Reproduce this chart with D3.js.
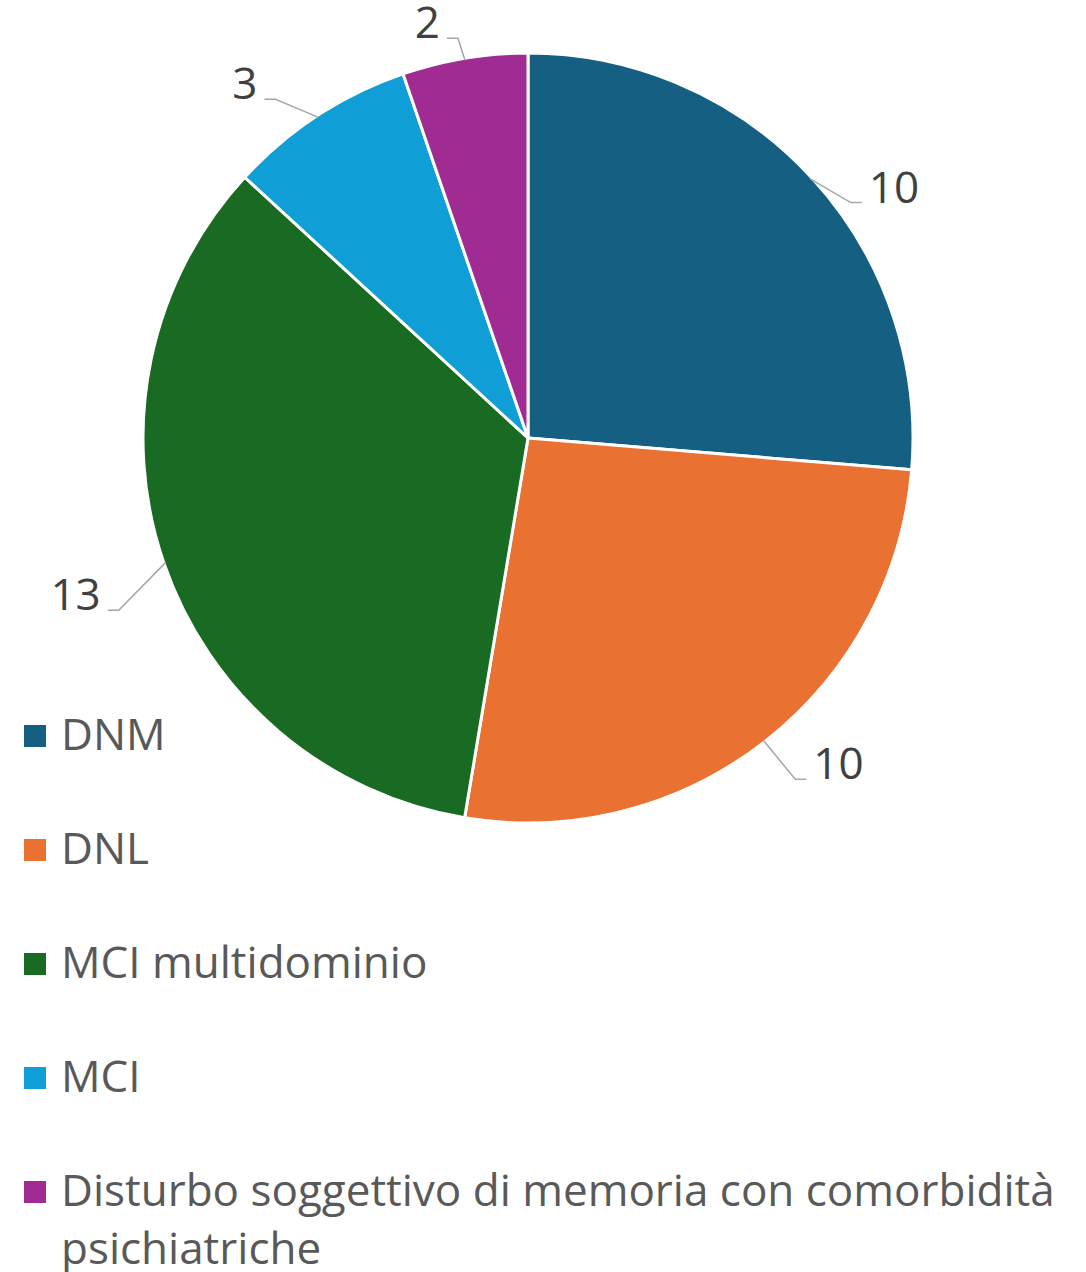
<!DOCTYPE html>
<html>
<head>
<meta charset="utf-8">
<script src="https://cdn.jsdelivr.net/npm/d3@7"></script>
<style>
  html, body { margin: 0; padding: 0; background: #fff; }
  svg { display: block; }
  text { font-family: "Open Sans", "Liberation Sans", sans-serif; }
</style>
</head>
<body>
<svg id="chart" width="1086" height="1272"></svg>
<script>
// Diagnosis groups and patient counts
const categories = ["DNM", "DNL", "MCI multidominio", "MCI",
  "Disturbo soggettivo di memoria con comorbidità psichiatriche"];
const values = [10, 10, 13, 3, 2];
const colors = ["#156082", "#E97132", "#196B24", "#0F9ED5", "#A02B93"];

// Legend text split into display lines
const legendLines = [["DNM"], ["DNL"], ["MCI multidominio"], ["MCI"],
  ["Disturbo soggettivo di memoria con comorbidità", "psichiatriche"]];

// Leader-line elbow offsets (dx, dy) from the slice edge point
const elbowOffsets = [[41, 24], [32, 39], [-47, 48], [-43, -18], [-7, -22]];

const svg = d3.select("#chart");
const cx = 528, cy = 438, radius = 385;

const data = categories.map((c, i) => ({ name: c, value: values[i], color: colors[i] }));

const pie = d3.pie().value(d => d.value).sort(null).startAngle(0).endAngle(2 * Math.PI);
const arcs = pie(data);
const arc = d3.arc().innerRadius(0).outerRadius(radius);

const g = svg.append("g").attr("transform", `translate(${cx},${cy})`);

g.selectAll("path.slice")
  .data(arcs)
  .enter().append("path")
  .attr("class", "slice")
  .attr("d", arc)
  .attr("fill", d => d.data.color)
  .attr("stroke", "#ffffff")
  .attr("stroke-width", 3)
  .attr("stroke-linejoin", "round");

// Data labels with leader lines
arcs.forEach((a, i) => {
  const mid = (a.startAngle + a.endAngle) / 2;
  const ex = (radius - 2) * Math.sin(mid), ey = -(radius - 2) * Math.cos(mid);
  const [dx, dy] = elbowOffsets[i];
  const bx = ex + dx, by = ey + dy;
  const right = Math.sin(mid) > 0;
  const tx = bx + (right ? 11 : -11);
  g.append("path")
    .attr("d", `M${ex},${ey}L${bx},${by}L${tx},${by}`)
    .attr("fill", "none")
    .attr("stroke", "#A6A6A6")
    .attr("stroke-width", 1.5);
  g.append("text")
    .attr("x", tx + (right ? 7 : -7))
    .attr("y", by)
    .attr("text-anchor", right ? "start" : "end")
    .attr("font-size", 44)
    .attr("fill", "#404040")
    .text(a.data.value);
});

// Legend
const legend = svg.append("g").attr("transform", "translate(24,0)");
const rowY = d3.scalePoint().domain(categories).range([750, 1206]);
categories.forEach((c, i) => {
  const y = rowY(c);
  legend.append("rect")
    .attr("x", 0).attr("y", y - 25)
    .attr("width", 22).attr("height", 22)
    .attr("fill", colors[i]);
  legendLines[i].forEach((line, j) => {
    legend.append("text")
      .attr("x", 37)
      .attr("y", y + j * 58)
      .attr("font-size", 44)
      .attr("fill", "#595959")
      .text(line);
  });
});
</script>
</body>
</html>
